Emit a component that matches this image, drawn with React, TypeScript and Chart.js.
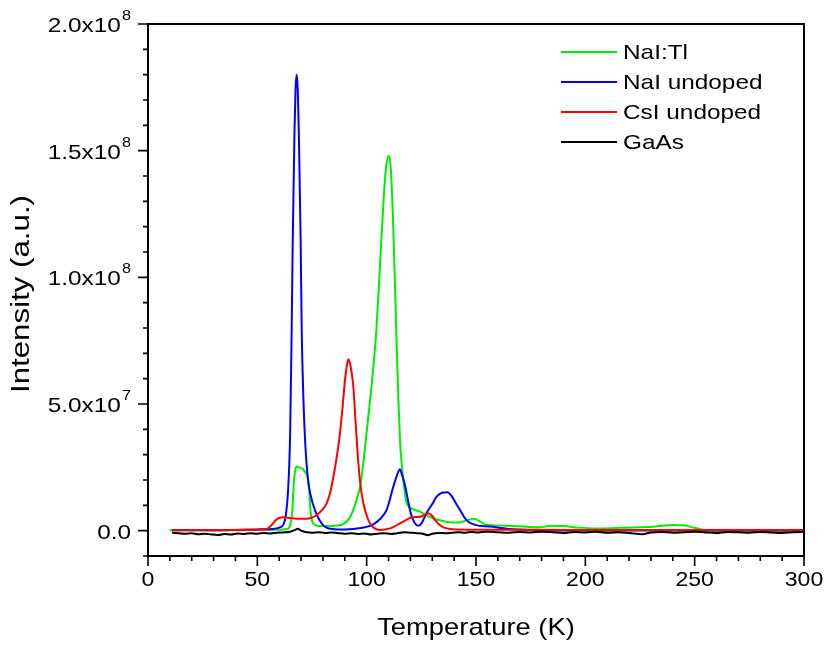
import React, { useEffect, useRef } from "react";
import { Chart, registerables } from "chart.js";

Chart.register(...registerables);

// ---- Data (temperature in K, intensity in units of 1e7 a.u.) ----
const naiTlTemp = [10, 20, 30, 40, 50, 58, 62, 64, 65, 66, 66.8, 67.5, 68, 69, 70.5, 72, 73, 73.7, 74.3, 75, 76, 78, 82, 86, 89, 91, 92.5, 94, 95.5, 97, 98.5, 100, 101.5, 103, 104.5, 106, 107.5, 108.8, 110.2, 111.1, 112.2, 113.7, 114.5, 115.3, 116, 117, 118.3, 119.8, 122, 124.4, 127, 130.5, 134, 138, 141.2, 144, 147, 149.5, 152, 154.9, 160, 164, 172, 179, 184, 190, 197, 204, 212, 219, 228, 235, 240, 245, 249, 253, 257, 265, 280, 300];
const naiTlVal = [0.02, 0.02, 0.02, 0.02, 0.03, 0.04, 0.05, 0.08, 0.2, 0.8, 2.0, 2.45, 2.53, 2.5, 2.45, 2.3, 2.1, 1.6, 0.8, 0.4, 0.25, 0.18, 0.18, 0.2, 0.25, 0.38, 0.55, 0.85, 1.25, 1.75, 2.7, 3.9, 5.1, 6.4, 8.0, 10.3, 12.7, 14.3, 14.8, 14.2, 11.9, 7.4, 5.2, 3.5, 2.67, 1.8, 1.08, 0.92, 0.82, 0.75, 0.62, 0.49, 0.4, 0.33, 0.32, 0.36, 0.44, 0.46, 0.36, 0.22, 0.2, 0.19, 0.16, 0.13, 0.19, 0.18, 0.12, 0.09, 0.1, 0.12, 0.14, 0.19, 0.22, 0.21, 0.13, 0.05, 0.01, 0.01, 0.0, 0.0];

const naiTemp = [11, 30, 50, 58, 60, 62, 63, 64, 65, 65.7, 66.2, 67, 67.5, 68, 68.5, 69, 69.8, 70.3, 71, 72, 73.2, 74.5, 76.4, 78.5, 81, 85, 90, 95, 100, 103, 106, 109.2, 110.5, 112.2, 114.5, 115.2, 116.2, 117.5, 119, 120.4, 122, 123.5, 125, 127.4, 130, 132, 134.5, 136.9, 139, 141, 142.7, 144.5, 146.3, 150, 156.4, 165, 175, 200, 250, 300];
const naiVal = [0.02, 0.02, 0.05, 0.08, 0.12, 0.25, 0.6, 1.5, 3.8, 7.9, 11.5, 15.8, 17.5, 18.0, 17.4, 15.6, 11.5, 7.9, 5.4, 3.3, 2.0, 1.35, 0.8, 0.4, 0.15, 0.06, 0.05, 0.08, 0.15, 0.25, 0.45, 0.83, 1.2, 1.74, 2.33, 2.42, 2.2, 1.8, 1.15, 0.62, 0.3, 0.19, 0.28, 0.7, 1.05, 1.34, 1.5, 1.52, 1.35, 1.05, 0.82, 0.55, 0.36, 0.22, 0.16, 0.07, 0.03, 0.01, 0.01, 0.01];

const csiTemp = [11, 20, 30, 40, 50, 54.3, 56, 57.3, 58.5, 59.6, 61.9, 65, 68, 72.6, 75, 77.1, 79.5, 81.7, 83.3, 84.8, 86.3, 87.8, 89, 90.1, 90.9, 91.6, 92.4, 93.2, 93.9, 95, 96.2, 97.3, 98.5, 100, 101.5, 103.5, 106.1, 110.7, 113, 115.2, 118, 120.6, 124.4, 126.5, 128.2, 129.8, 131.3, 133, 135.1, 138, 141.2, 160, 200, 250, 300];
const csiVal = [0.03, 0.03, 0.02, 0.03, 0.04, 0.06, 0.18, 0.3, 0.42, 0.49, 0.53, 0.5, 0.47, 0.47, 0.52, 0.62, 0.8, 1.08, 1.5, 2.13, 2.9, 3.85, 4.9, 5.95, 6.5, 6.77, 6.6, 6.2, 5.68, 4.2, 2.66, 1.7, 1.08, 0.6, 0.29, 0.1, 0.03, 0.09, 0.18, 0.29, 0.42, 0.53, 0.55, 0.62, 0.69, 0.6, 0.42, 0.25, 0.13, 0.07, 0.05, 0.04, 0.03, 0.03, 0.03];

const gaasTemp = [11, 14, 17, 20, 23, 26, 29, 32, 35, 38, 41, 44, 47, 50, 53, 56, 59, 62, 65, 67, 68.5, 70, 72, 75, 78, 81, 84, 87, 90, 93, 96, 99, 102, 105, 108, 111, 114, 117, 120, 123, 126, 128, 130, 133, 136, 139, 142, 145, 148, 151, 155, 160, 165, 170, 175, 180, 185, 190, 195, 200, 205, 210, 215, 220, 226, 230, 235, 240, 245, 250, 255, 260, 265, 270, 275, 280, 285, 290, 295, 300];
const gaasVal = [-0.08, -0.1, -0.12, -0.1, -0.14, -0.12, -0.15, -0.17, -0.13, -0.15, -0.11, -0.13, -0.1, -0.12, -0.09, -0.11, -0.08, -0.07, -0.04, 0.02, 0.08, 0.0, -0.05, -0.08, -0.06, -0.09, -0.07, -0.1, -0.12, -0.1, -0.13, -0.11, -0.15, -0.12, -0.1, -0.13, -0.1, -0.06, -0.08, -0.1, -0.13, -0.18, -0.12, -0.09, -0.1, -0.08, -0.06, -0.08, -0.05, -0.07, -0.04, -0.06, -0.08, -0.05, -0.07, -0.04, -0.06, -0.09, -0.05, -0.07, -0.04, -0.08, -0.06, -0.09, -0.14, -0.07, -0.05, -0.08, -0.06, -0.04, -0.07, -0.09, -0.05, -0.06, -0.08, -0.05, -0.07, -0.09, -0.06, -0.05];

const seriesLabels = ["NaI:Tl", "NaI undoped", "CsI undoped", "GaAs"];
const seriesColors = ["#00ee00", "#0000ff", "#ff0000", "#000000"];

const UNIT = 1e7;

// ---- Axis ticks ----
const xMajorTicks = [0, 50, 100, 150, 200, 250, 300];
const xMinorTicks = [10, 20, 30, 40, 60, 70, 80, 90, 110, 120, 130, 140, 160, 170, 180, 190, 210, 220, 230, 240, 260, 270, 280, 290];
const yMajorTicks = [0, 5e7, 1e8, 1.5e8, 2e8];
const yMajorMantissa = ["0.0", "5.0x10", "1.0x10", "1.5x10", "2.0x10"];
const yMajorExp = ["", "7", "8", "8", "8"];
const yMinorTicks = [-1e7, 1e7, 2e7, 3e7, 4e7, 6e7, 7e7, 8e7, 9e7, 1.1e8, 1.2e8, 1.3e8, 1.4e8, 1.6e8, 1.7e8, 1.8e8, 1.9e8];

const xTitle = "Temperature (K)";
const yTitle = "Intensity (a.u.)";

const FONT = '"Liberation Sans", Arial, sans-serif';

function stretchedText(ctx: CanvasRenderingContext2D, text: string, x: number, y: number, sx: number) {
  ctx.save();
  ctx.translate(x, y);
  ctx.scale(sx, 1);
  ctx.fillText(text, 0, 0);
  ctx.restore();
}

const decorPlugin = {
  id: "decor",
  afterDraw(chart: any) {
    const { ctx, chartArea: a } = chart;
    const xs = chart.scales.x;
    const ys = chart.scales.y;
    ctx.save();
    ctx.strokeStyle = "#000";
    ctx.fillStyle = "#000";
    // frame
    ctx.lineWidth = 2;
    ctx.strokeRect(a.left, a.top, a.right - a.left, a.bottom - a.top);
    // ticks
    ctx.lineWidth = 1.6;
    ctx.beginPath();
    xMajorTicks.forEach((v) => {
      const p = xs.getPixelForValue(v);
      ctx.moveTo(p, a.bottom);
      ctx.lineTo(p, a.bottom + 10);
    });
    xMinorTicks.forEach((v) => {
      const p = xs.getPixelForValue(v);
      ctx.moveTo(p, a.bottom);
      ctx.lineTo(p, a.bottom + 5);
    });
    yMajorTicks.forEach((v) => {
      const p = ys.getPixelForValue(v);
      ctx.moveTo(a.left, p);
      ctx.lineTo(a.left - 10, p);
    });
    yMinorTicks.forEach((v) => {
      const p = ys.getPixelForValue(v);
      ctx.moveTo(a.left, p);
      ctx.lineTo(a.left - 5, p);
    });
    ctx.stroke();

    // x tick labels
    ctx.font = `21px ${FONT}`;
    ctx.textAlign = "center";
    ctx.textBaseline = "middle";
    xMajorTicks.forEach((v) => {
      const p = xs.getPixelForValue(v);
      stretchedText(ctx, String(v), p, a.bottom + 24, 1.1);
    });

    // y tick labels with superscript exponent
    const rightEdge = a.left - 17;
    const sy = 1.16;
    yMajorTicks.forEach((v, i) => {
      const p = ys.getPixelForValue(v);
      ctx.textBaseline = "alphabetic";
      ctx.textAlign = "right";
      let r = rightEdge;
      if (yMajorExp[i]) {
        ctx.font = `14px ${FONT}`;
        stretchedText(ctx, yMajorExp[i], r, p - 4, sy);
        r -= (ctx.measureText(yMajorExp[i]).width + 1) * sy;
      }
      ctx.font = `21px ${FONT}`;
      stretchedText(ctx, yMajorMantissa[i], r, p + 8, sy);
    });

    // axis titles
    ctx.textAlign = "center";
    ctx.textBaseline = "middle";
    ctx.font = `24px ${FONT}`;
    stretchedText(ctx, xTitle, (a.left + a.right) / 2, 628, 1.14);
    ctx.save();
    ctx.translate(22, (a.top + a.bottom) / 2 + 4);
    ctx.rotate(-Math.PI / 2);
    ctx.font = `25px ${FONT}`;
    stretchedText(ctx, yTitle, 0, 0, 1.25);
    ctx.restore();

    // legend
    ctx.font = `21px ${FONT}`;
    ctx.textAlign = "left";
    ctx.textBaseline = "middle";
    chart.data.datasets.forEach((ds: any, i: number) => {
      const yy = 52 + i * 30;
      ctx.strokeStyle = ds.borderColor;
      ctx.lineWidth = 2;
      ctx.beginPath();
      ctx.moveTo(561, yy);
      ctx.lineTo(617, yy);
      ctx.stroke();
      ctx.fillStyle = "#000";
      stretchedText(ctx, ds.label, 623, yy + 1, 1.16);
    });
    ctx.restore();
  },
};

function build(temp: number[], val: number[]) {
  return temp.map((t, i) => ({ x: t, y: val[i] * UNIT }));
}

export default function App() {
  const ref = useRef<HTMLCanvasElement | null>(null);
  useEffect(() => {
    if (!ref.current) return;
    const allT = [naiTlTemp, naiTemp, csiTemp, gaasTemp];
    const allV = [naiTlVal, naiVal, csiVal, gaasVal];
    const drawOrder = [3, 2, 1, 0];
    const chart = new Chart(ref.current, {
      type: "line",
      data: {
        datasets: seriesLabels.map((label, i) => ({
          label,
          data: build(allT[i], allV[i]),
          borderColor: seriesColors[i],
          backgroundColor: seriesColors[i],
          borderWidth: 2,
          pointRadius: 0,
          fill: false,
          tension: 0.4,
          cubicInterpolationMode: "monotone" as const,
          order: drawOrder[i],
        })),
      },
      options: {
        responsive: false,
        animation: false,
        devicePixelRatio: 1,
        layout: { padding: { left: 148, right: 22, top: 24, bottom: 91 } },
        plugins: { legend: { display: false }, tooltip: { enabled: false } },
        scales: {
          x: { type: "linear", min: 0, max: 300, display: false },
          y: { type: "linear", min: -1e7, max: 2e8, display: false },
        },
      },
      plugins: [decorPlugin],
    });
    return () => chart.destroy();
  }, []);
  return (
    <div style={{ position: "fixed", left: 0, top: 0, width: 826, height: 647, background: "#fff" }}>
      <canvas ref={ref} width={826} height={647} />
    </div>
  );
}
